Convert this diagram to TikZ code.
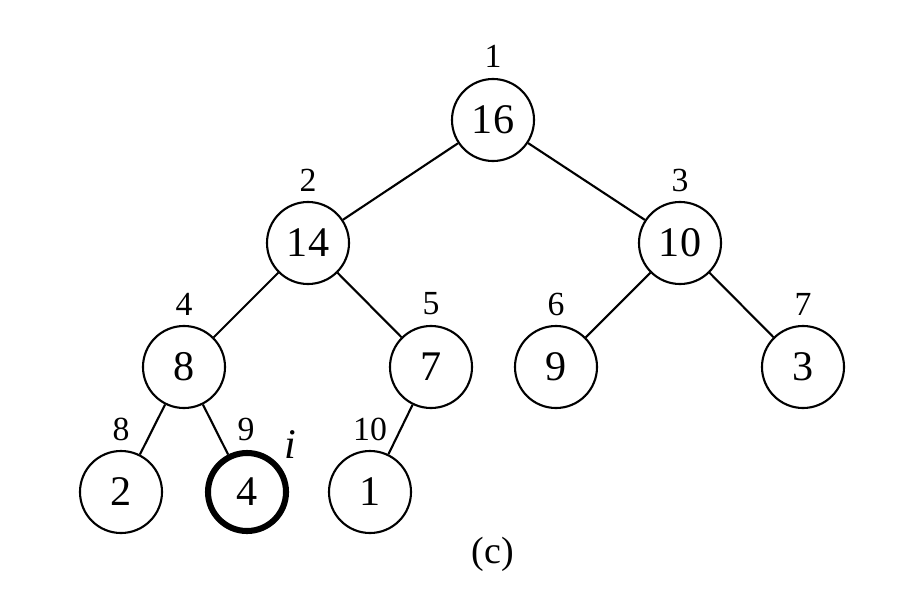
\documentclass[tikz,border=0pt]{standalone}
\usepackage{fontspec}
\setmainfont{Liberation Serif}
\begin{document}
\begin{tikzpicture}[x=0.025cm,y=-0.025cm,
  hnode/.style={circle,draw,line width=1.5pt,minimum size=2.05cm,inner sep=0pt,font=\fontsize{30}{31}\selectfont},
  hthick/.style={hnode,line width=4.3pt,minimum size=1.95cm},
  idx/.style={font=\fontsize{24}{26}\selectfont,inner sep=0pt},
  edge/.style={line width=1.5pt}]
\useasboundingbox (0,0) rectangle (920,591);
\node[hnode] (n1) at (493,120) {16};
\node[hnode] (n2) at (308,243) {14};
\node[hnode] (n3) at (680,243) {10};
\node[hnode] (n4) at (184,367) {8};
\node[hnode] (n5) at (431,367) {7};
\node[hnode] (n6) at (556,367) {9};
\node[hnode] (n7) at (803,367) {3};
\node[hnode] (n8) at (121,492) {2};
\node[hthick] (n9) at (247,492) {4};
\node[hnode] (n10) at (370,492) {1};
\draw[edge] (n1) -- (n2);
\draw[edge] (n1) -- (n3);
\draw[edge] (n2) -- (n4);
\draw[edge] (n2) -- (n5);
\draw[edge] (n3) -- (n6);
\draw[edge] (n3) -- (n7);
\draw[edge] (n4) -- (n8);
\draw[edge] (n4) -- (n9);
\draw[edge] (n5) -- (n10);
\node[idx] (l1) at (493,56) {1};
\node[idx] (l2) at (308,180) {2};
\node[idx] (l3) at (680,180) {3};
\node[idx] (l4) at (184,304) {4};
\node[idx] (l5) at (431,304) {5};
\node[idx] (l6) at (556,304) {6};
\node[idx] (l7) at (803,304) {7};
\node[idx] (l8) at (121,429) {8};
\node[idx] (l9) at (246,429) {9};
\node[idx] (l10) at (370,429) {10};
\node[font=\fontsize{30}{32}\selectfont,inner sep=0pt] (li) at (290,445) {\itshape i};
\node[font=\fontsize{27}{29}\selectfont,inner sep=0pt] (cap) at (493,554) {(c)};
\end{tikzpicture}
\end{document}
